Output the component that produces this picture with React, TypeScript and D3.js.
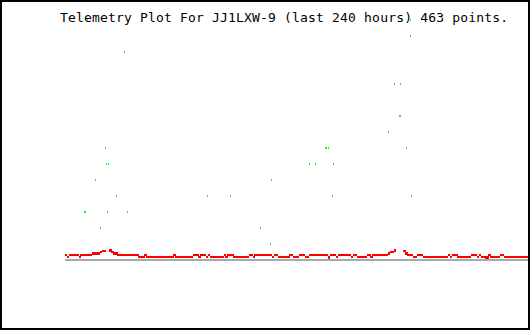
import { useEffect, useRef } from 'react';
import * as d3 from 'd3';

// red channel, one reading per hour (0..240), null = no data
const redValues: (number | null)[] = [
	3, 2, 3, 3, 3, 3, 3, 2, 3, 3,
	3, 3, 3, 3, 4, 4, 4, 4, 5, 5.5,
	5.5, null, null, 6, 5, 4, 4, 3, 3, 3,
	3, 3, 3, 3, 3, 3, 3, 3, 2, 2,
	2, 3, 2, 2, 2, 2, 2, 2, 2, 2,
	2, 2, 2, 2, 2, 2, 3, 2, 2, 2,
	2, 2, 2, 2, 2, 2, 3, 3, 3, 2,
	3, 3, 3, 2, 3, 2, 2, 2, 2, 2,
	2, 2, 3, 2, 3, 3, 3, 2, 2, 2,
	2, 2, 2, 2, 2, 3, 3, 2, 3, 3,
	3, 3, 3, 3, 3, 3, 3, 2, 3, 3,
	2, 2, 2, 2, 2, 2, 3, 3, 2, 2,
	2, 3, 3, 3, 2, 2, 3, 3, 3, 3,
	3, 3, 3, 3, 3, 3, 1.5, 3, 3, 3,
	2, 3, 3, 3, 3, 3, 3, 3, 2, 3,
	3, 2, 2, 2, 2, 2, 3, 3, 2, 3,
	3, 3, 3, 3, 3, 3, 3, 4, 5, 5,
	6, null, null, null, null, 5.5, 4, 3, 3, 3,
	2, 2, 3, 3, 3, 2, 2, 2, 2, 2,
	2, 2, 2, 2, 2, 2, 2, 2, 3, 2,
	3, 3, 3, 2, 2, 2, 2, 2, 2, 2,
	3, 3, 3, 2, 3, 2, 2, 1.5, 1.5, 3,
	2, 2, 2, 2, 2, 3, 3, 2, 2, 2,
	2, 2, 2, 2, 2, 2, 2, 2, 2, 2,
	2
];

// green channel, sparse readings
const greenHours: number[] = [
	11.4, 16.0, 178.5,
	30.5, 20.8, 21.4, 22.4, 15.7, 26.5, 73.6,
	10.0, 10.5, 21.9, 32.2, 18.3,
	106.7, 85.5, 138.3, 101.0, 106.2, 179.2,
	178.6, 170.4, 173.5, 172.6, 173.1, 167.3,
	134.5, 135.2, 135.8, 176.6, 126.4, 129.5, 138.8
];
const greenValues: number[] = [
	150, 150, 150,
	130, 70, 60, 60, 50, 40, 40,
	30, 30, 30, 30, 20,
	50, 40, 40, 20, 10, 40,
	140, 110, 110, 90, 90, 80,
	70, 70, 70, 70, 60, 60, 60
];

const title = "Telemetry Plot For JJ1LXW-9 (last 240 hours) 463 points.";

const width = 530;
const height = 330;
const margin = { top: 20, right: 1, bottom: 70, left: 65 };

export default function App() {
	const ref = useRef<SVGSVGElement>(null);

	useEffect(() => {
		const svg = d3.select(ref.current);
		svg.selectAll("*").remove();

		const x = d3.scaleLinear()
			.domain([0, 240])
			.range([margin.left, width - margin.right]);

		const y = d3.scaleLinear()
			.domain([0, 150])
			.range([height - margin.bottom, margin.top]);

		svg.append("rect")
			.attr("width", width)
			.attr("height", height)
			.attr("fill", "#ffffff");

		svg.append("text")
			.attr("x", 60)
			.attr("y", 22)
			.attr("textLength", 448)
			.attr("lengthAdjust", "spacing")
			.text(title)
			.style("font-size", "13px")
			.style("font-family", "'DejaVu Sans Mono', monospace")
			.style("fill", "#000000");

		// baseline
		svg.append("line")
			.attr("x1", x(0))
			.attr("x2", x(240))
			.attr("y1", y(0))
			.attr("y2", y(0))
			.style("stroke", "#a8a8a8")
			.style("stroke-width", 2);

		const step = x(1) - x(0);
		svg.append("g")
			.selectAll("rect")
			.data(redValues.map((v, i) => ({ h: i, v })).filter(d => d.v !== null))
			.join("rect")
			.attr("x", d => x(d.h))
			.attr("y", d => y(d.v as number) - 1.2)
			.attr("width", step + 0.3)
			.attr("height", 2.4)
			.attr("fill", "#ff0000")
			.attr("shape-rendering", "crispEdges");

		svg.append("g")
			.selectAll("rect")
			.data(greenHours.map((h, i) => ({ h, v: greenValues[i] })))
			.join("rect")
			.attr("x", d => Math.round(x(d.h)))
			.attr("y", d => Math.round(y(d.v)) - 1)
			.attr("width", 1)
			.attr("height", 2)
			.attr("fill", "#00ff00")
			.attr("shape-rendering", "crispEdges");

		svg.append("rect")
			.attr("x", 1)
			.attr("y", 1)
			.attr("width", width - 2)
			.attr("height", height - 2)
			.attr("fill", "none")
			.style("stroke", "#000000")
			.style("stroke-width", 2);
	}, []);

	return (
		<svg
			ref={ref}
			width={width}
			height={height}
			style={{ position: "absolute", left: 0, top: 0, display: "block" }}
		/>
	);
}
